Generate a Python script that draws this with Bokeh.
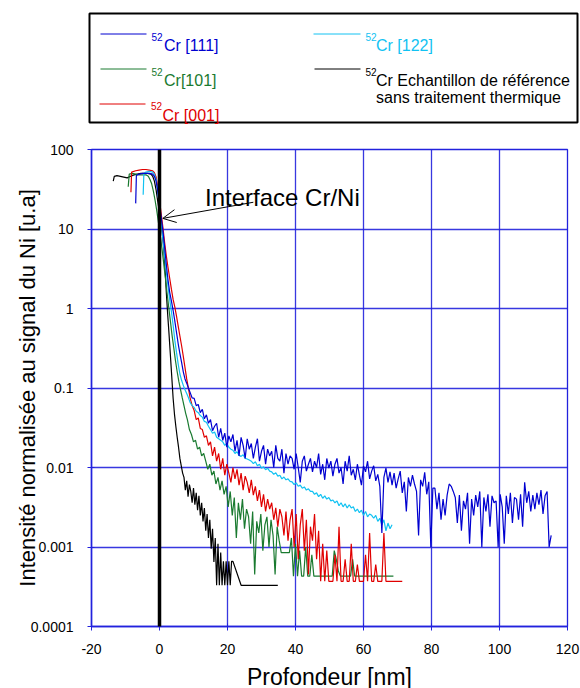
import numpy as np
from bokeh.plotting import figure
from bokeh.layouts import column
from bokeh.models import Range1d, FixedTicker, CustomJSTickFormatter, Arrow, OpenHead, Label
from bokeh.embed import file_html
from bokeh.resources import INLINE
from bokeh.core.properties import value

FONT = "Liberation Sans"
C_BLUE = "#0000d0"
C_CYAN = "#12c2f2"
C_GREEN = "#1a7a30"
C_RED = "#e00000"
C_BLACK = "#000000"
GRID = "#2222dd"

x_ticks = [-20, 0, 20, 40, 60, 80, 100, 120]
y_ticks = [0.0001, 0.001, 0.01, 0.1, 1, 10, 100]

# ---------------- data (depth in nm, intensity normalised to Ni) ----------------
# 52Cr [111]  (blue)
blue_head_x = [-7.0, -6.8, -6.0, -5.0, -4.0, -3.0, -2.0, -1.5, -1.0, -0.5, 0.0, 0.5, 1.0, 1.5,
               2.0, 2.5, 3.0, 3.5, 4.0, 4.5, 5.0, 5.5, 6.0, 6.5, 7.0, 7.5, 8.0, 8.5]
blue_head_y = [21, 47, 49, 50, 50, 50, 49, 46, 40, 30, 20, 14, 9.5, 6.0,
               3.6, 2.3, 1.6, 1.25, 0.95, 0.70, 0.50, 0.36, 0.27, 0.21, 0.16, 0.13, 0.115, 0.10]
blue_tail_start, blue_tail_step = 9.0, 0.6
blue_tail_y = [
    0.088, 0.075, 0.074, 0.060, 0.062, 0.049, 0.054, 0.041, 0.046, 0.036,
    0.040, 0.029, 0.033, 0.036, 0.024, 0.031, 0.022, 0.027, 0.018, 0.025,
    0.021, 0.026, 0.016, 0.022, 0.014, 0.024, 0.019, 0.013, 0.023, 0.017,
    0.020, 0.013, 0.018, 0.023, 0.012, 0.016, 0.019, 0.011, 0.017, 0.014,
    0.016, 0.010, 0.019, 0.013, 0.012, 0.017, 0.0085, 0.015, 0.011, 0.014,
    0.013, 0.0095, 0.015, 0.010, 0.0065, 0.012, 0.014, 0.0090, 0.011, 0.013,
    0.0088, 0.012, 0.010, 0.015, 0.0082, 0.011, 0.0070, 0.013, 0.0098, 0.012,
    0.0078, 0.011, 0.013, 0.0085, 0.0100, 0.0062, 0.012, 0.0090, 0.014, 0.0080,
    0.0095, 0.0070, 0.011, 0.0080, 0.0060, 0.0105, 0.0088, 0.012, 0.0072, 0.0090,
    0.0105, 0.0068, 0.0082, 0.0058, 0.0015, 0.0075, 0.0098, 0.0065, 0.0088, 0.0060,
    0.0085, 0.0055, 0.0072, 0.0090, 0.0048, 0.0066, 0.0028, 0.0075, 0.0058, 0.0080,
    0.0062, 0.0050, 0.0014, 0.0070, 0.0058, 0.0087, 0.0046, 0.0066, 0.0010, 0.0055,
    0.0055, 0.0030, 0.0048, 0.0022, 0.0040, 0.0025, 0.0045, 0.0062, 0.0058, 0.0050,
    0.0042, 0.0020, 0.0045, 0.0016, 0.0038, 0.0030, 0.0048, 0.0011, 0.0040, 0.0025,
    0.0045, 0.0032, 0.0050, 0.0010, 0.0042, 0.0028, 0.0046, 0.0018, 0.0044, 0.0036,
    0.0038, 0.0010, 0.0046, 0.0032, 0.0011, 0.0044, 0.0026, 0.0048, 0.0020, 0.0042,
    0.0040, 0.0022, 0.0046, 0.0018, 0.0065, 0.0036, 0.0050, 0.0028, 0.0045, 0.0030,
    0.0048, 0.0034, 0.0052, 0.0026, 0.0044, 0.0050, 0.0010, 0.0014]

# 52Cr [122]  (cyan)
cyan_head_x = [-4.8, -4.6, -4.0, -3.0, -2.0, -1.5, -1.0, -0.5, 0.0, 0.5, 1.0, 1.5, 2.0, 2.5,
               3.0, 3.5, 4.0, 4.5, 5.0, 5.5, 6.0, 6.5, 7.0, 7.5, 8.0, 8.5]
cyan_head_y = [27, 50, 52, 53, 52, 49, 42, 30, 19, 12, 7.5, 4.6, 2.9, 1.9,
               1.3, 0.92, 0.62, 0.40, 0.28, 0.20, 0.15, 0.125, 0.108, 0.095, 0.085, 0.076]
cyan_tail_start, cyan_tail_step = 9.0, 0.6
cyan_tail_y = [
    0.066, 0.060, 0.057, 0.051, 0.049, 0.045, 0.043, 0.038, 0.037, 0.033,
    0.030, 0.027, 0.028, 0.024, 0.023, 0.022, 0.021, 0.019, 0.020, 0.018,
    0.017, 0.0165, 0.0150, 0.0158, 0.0142, 0.0138, 0.0145, 0.0130, 0.0128, 0.0124,
    0.0120, 0.0112, 0.0118, 0.0105, 0.0110, 0.0098, 0.0102, 0.0094, 0.0098, 0.0090,
    0.0088, 0.0082, 0.0086, 0.0078, 0.0080, 0.0072, 0.0076, 0.0070, 0.0072, 0.0067,
    0.0066, 0.0061, 0.0064, 0.0058, 0.0060, 0.0055, 0.0057, 0.0052, 0.0054, 0.0050,
    0.0050, 0.0046, 0.0048, 0.0043, 0.0046, 0.0041, 0.0044, 0.0040, 0.0042, 0.0038,
    0.0039, 0.0036, 0.0038, 0.0033, 0.0036, 0.0032, 0.0035, 0.0031, 0.0034, 0.0031,
    0.0032, 0.0028, 0.0030, 0.0027, 0.0029, 0.0025, 0.0028, 0.0024, 0.0026, 0.0025,
    0.0023, 0.0025, 0.0021, 0.0023, 0.0019, 0.0022, 0.0016, 0.0020, 0.0017, 0.0019]

# 52Cr [101]  (green)
green_head_x = [-9.2, -8.9, -8.0, -7.0, -6.0, -5.0, -4.0, -3.3, -2.8, -2.3, -1.8, -1.3, -0.8, -0.3,
                0.2, 0.7, 1.2, 1.7, 2.2, 2.7, 3.2, 3.7, 4.2, 4.7, 5.2, 5.7, 6.2, 6.7, 7.2, 7.7]
green_head_y = [34, 49, 50, 49, 48, 48, 48, 46, 42, 37, 30, 23, 17, 12,
                8.5, 5.8, 3.8, 2.5, 1.6, 1.05, 0.70, 0.46, 0.32, 0.22, 0.16, 0.12, 0.095, 0.075, 0.060, 0.048]
green_tail_start, green_tail_step = 8.2, 0.6
green_tail_y = [
    0.040, 0.030, 0.026, 0.021, 0.022, 0.017, 0.018, 0.014, 0.015, 0.012,
    0.0095, 0.011, 0.0080, 0.0090, 0.0062, 0.0075, 0.0052, 0.0068, 0.0046, 0.0058,
    0.0032, 0.0050, 0.0025, 0.0042, 0.0013, 0.0036, 0.0022, 0.0040, 0.0017, 0.0030,
    0.0024, 0.0011, 0.0028, 0.00045, 0.0021, 0.0015, 0.0026, 0.0009, 0.0019, 0.0024,
    0.0010, 0.0022, 0.0014, 0.00045, 0.0018, 0.0012, 0.00085, 0.00085, 0.00085, 0.00085,
    0.00085, 0.0013, 0.00043, 0.0011, 0.00043, 0.0009, 0.00043, 0.00043, 0.0010, 0.00043,
    0.00043, 0.0008, 0.00043, 0.00043, 0.00043, 0.00043, 0.00043, 0.00043, 0.00043, 0.00043,
    0.00043, 0.00043, 0.0009, 0.0007, 0.0005, 0.00043, 0.00043, 0.00043, 0.00043, 0.00043,
    0.00043, 0.0007, 0.00043, 0.00043, 0.00043, 0.00043, 0.00043, 0.00043, 0.00043, 0.00043,
    0.00043, 0.00043, 0.00043, 0.00043, 0.00043, 0.00043, 0.00043, 0.00043, 0.00043, 0.00043,
    0.00043, 0.00043]

# 52Cr [001]  (red)
red_head_x = [-8.4, -8.2, -7.0, -6.0, -5.0, -4.0, -3.0, -2.0, -1.5, -1.0, -0.5, 0.0, 0.5, 1.0,
              1.5, 2.0, 2.5, 3.0, 3.5, 4.0, 4.5, 5.0, 5.5, 6.0, 6.5, 7.0, 7.5, 8.0, 8.5]
red_head_y = [29, 52, 54, 55, 56, 56, 55, 54, 51, 45, 34, 23, 15.5, 10.5,
              6.8, 4.6, 3.3, 2.4, 1.75, 1.3, 1.05, 0.80, 0.60, 0.45, 0.34, 0.25, 0.18, 0.13, 0.10]
red_tail_start, red_tail_step = 9.0, 0.6
red_tail_y = [
    0.075, 0.060, 0.052, 0.040, 0.042, 0.031, 0.030, 0.024, 0.025, 0.019,
    0.021, 0.014, 0.018, 0.012, 0.015, 0.0095, 0.013, 0.0080, 0.011, 0.0085,
    0.0065, 0.010, 0.0072, 0.0095, 0.0060, 0.0085, 0.0052, 0.0078, 0.0065, 0.0048,
    0.0070, 0.0045, 0.0058, 0.0038, 0.0052, 0.0032, 0.0046, 0.0028, 0.0040, 0.0030,
    0.0036, 0.0022, 0.0031, 0.0018, 0.0030, 0.0024, 0.0014, 0.0028, 0.0012, 0.0022,
    0.0030, 0.0010, 0.0026, 0.0007, 0.0019, 0.0030, 0.0009, 0.0022, 0.00045, 0.0018,
    0.0012, 0.0026, 0.0007, 0.0016, 0.00037, 0.0011, 0.00037, 0.0009, 0.00037, 0.00037,
    0.00037, 0.0008, 0.00037, 0.0018, 0.00037, 0.00037, 0.0007, 0.00037, 0.00037, 0.0011,
    0.00037, 0.00037, 0.0006, 0.00037, 0.00037, 0.00037, 0.0008, 0.00037, 0.0015, 0.00037,
    0.00037, 0.0006, 0.00037, 0.00037, 0.00037, 0.0015, 0.00037, 0.00037, 0.00037, 0.00037,
    0.00037, 0.00037, 0.00037, 0.00037, 0.00037]

# 52Cr reference sample without heat treatment (black)
black_head_x = [-13.6, -13.3, -12.5, -11.5, -10.5, -9.5, -8.5, -7.5, -6.5, -5.5, -4.5, -3.5, -2.5,
                -2.0, -1.5, -1.0, -0.5, 0.0, 0.4, 0.8, 1.2, 1.6, 2.0, 2.4, 2.8, 3.2, 3.6, 4.0,
                4.4, 4.8, 5.2, 5.6, 6.0, 6.4, 6.8]
black_head_y = [40, 46, 47, 46, 45, 44, 46, 48, 49, 50, 50, 50, 49,
                46, 40, 31, 22, 16, 12, 9.0, 6.0, 3.4, 1.6, 0.85, 0.48, 0.26, 0.14, 0.075,
                0.047, 0.033, 0.024, 0.018, 0.013, 0.0105, 0.0085]
black_tail_start, black_tail_step = 7.2, 0.4
black_tail_y = [
    0.0075, 0.0052, 0.0068, 0.0043, 0.0061, 0.0050, 0.0036, 0.0055, 0.0034, 0.0048,
    0.0029, 0.0044, 0.0025, 0.0036, 0.0021, 0.0031, 0.0016, 0.0026, 0.0013, 0.0022,
    0.00095, 0.0017, 0.00065, 0.0013, 0.00033, 0.0011, 0.00033, 0.00085, 0.00033, 0.00066,
    0.00033, 0.00066, 0.00033, 0.00066, 0.00033, 0.00066, 0.00066]
black_end_x = [24.0, 34.8]
black_end_y = [0.00033, 0.00033]


def series(head_x, head_y, start, step, tail_y, end_x=(), end_y=()):
    tail_x = start + step * np.arange(len(tail_y))
    xs = np.concatenate([head_x, tail_x, end_x])
    ys = np.concatenate([head_y, tail_y, end_y])
    return xs, ys


curves = [
    ("black", series(black_head_x, black_head_y, black_tail_start, black_tail_step, black_tail_y,
                     black_end_x, black_end_y), C_BLACK),
    ("green", series(green_head_x, green_head_y, green_tail_start, green_tail_step, green_tail_y), C_GREEN),
    ("red", series(red_head_x, red_head_y, red_tail_start, red_tail_step, red_tail_y), C_RED),
    ("cyan", series(cyan_head_x, cyan_head_y, cyan_tail_start, cyan_tail_step, cyan_tail_y), C_CYAN),
    ("blue", series(blue_head_x, blue_head_y, blue_tail_start, blue_tail_step, blue_tail_y), C_BLUE),
]

# ---------------- legend panel (drawn in page pixel coordinates) ----------------
leg = figure(width=580, height=130, x_range=Range1d(0, 580), y_range=Range1d(130, 0),
             output_backend="svg", toolbar_location=None, min_border=0,
             x_axis_location=None, y_axis_location=None)
leg.frame_align = False
leg.grid.visible = False
leg.outline_line_color = None
leg.background_fill_color = "white"
leg.border_fill_color = "white"
leg.quad(left=89, right=577, top=13, bottom=122, fill_color=None, line_color="black", line_width=2)

leg_names = ["Cr [111]", "Cr [122]", "Cr[101]", "Cr Echantillon de référence", "Cr [001]"]
leg_colors = [C_BLUE, C_CYAN, C_GREEN, C_BLACK, C_RED]
leg_x0 = [100, 313, 100, 314, 99]
leg_x1 = [146, 360, 146, 360, 145]
leg_ly = [33.5, 33.5, 68.5, 68.5, 103.5]
leg_sx = [151, 365, 151, 365, 150.5]
leg_sy = [36.5, 36.5, 71.5, 71.5, 105.5]
leg_tx = [163.5, 375.5, 163.5, 375.5, 162]
leg_ty = [45, 45, 80, 80, 114.5]

leg.segment(x0=leg_x0, y0=leg_ly, x1=leg_x1, y1=leg_ly, line_color=leg_colors, line_width=1)
leg.text(x=leg_sx, y=leg_sy, text=["52"] * 5, text_color=leg_colors, text_font=value(FONT),
         text_font_size="10px", text_baseline="alphabetic")
leg.text(x=leg_tx, y=leg_ty, text=leg_names, text_color=leg_colors, text_font=value(FONT),
         text_font_size="16px", text_baseline="alphabetic")
leg.text(x=[375.5], y=[97], text=["sans traitement thermique"], text_color=C_BLACK,
         text_font=value(FONT), text_font_size="16px", text_baseline="alphabetic")

# ---------------- main plot ----------------
p = figure(frame_width=476, frame_height=477, x_range=Range1d(-20, 120), y_range=Range1d(1e-4, 100),
           y_axis_type="log", output_backend="svg", toolbar_location=None,
           min_border_left=91, min_border_right=13, min_border_top=19, min_border_bottom=60)
p.frame_align = False
p.background_fill_color = "white"
p.border_fill_color = "white"
p.outline_line_color = GRID
p.outline_line_width = 1.3

for name, (xs, ys), col in curves:
    p.line(xs, ys, line_color=col, line_width=1.2)

p.xaxis.ticker = FixedTicker(ticks=x_ticks)
p.yaxis.ticker = FixedTicker(ticks=y_ticks)
p.xaxis.formatter = CustomJSTickFormatter(code="return tick.toString();")
p.yaxis.formatter = CustomJSTickFormatter(code="return tick.toString();")
p.xgrid.ticker = FixedTicker(ticks=x_ticks)
p.ygrid.ticker = FixedTicker(ticks=y_ticks)
for g in (p.xgrid, p.ygrid):
    g.grid_line_color = GRID
    g.grid_line_width = 1.3
    g.grid_line_alpha = 0.9

for ax in (p.xaxis, p.yaxis):
    ax.axis_line_color = GRID
    ax.axis_line_width = 1.5
    ax.major_tick_line_color = GRID
    ax.major_tick_in = 3
    ax.major_tick_out = 4
    ax.minor_tick_line_color = None
    ax.major_label_text_font = FONT
    ax.major_label_text_font_size = "14px"
    ax.major_label_text_color = "black"
    ax.axis_label_text_font = FONT
    ax.axis_label_text_font_style = "normal"
    ax.axis_label_text_color = "black"

p.xaxis.axis_label = "Profondeur [nm]"
p.xaxis.axis_label_text_font_size = "23px"
p.xaxis.major_label_standoff = 13
p.xaxis.axis_label_standoff = 7
p.yaxis.axis_label = "Intensité normalisée au signal du Ni [u.a]"
p.yaxis.axis_label_text_font_size = "22px"
p.yaxis.major_label_standoff = 14
p.yaxis.axis_label_standoff = -12

# interface marker and annotation
p.add_layout(Arrow(end=None, x_start=0, y_start=100, x_end=0, y_end=6.3e-5,
                   line_color="black", line_width=3.5))
p.add_layout(Arrow(end=OpenHead(size=13, line_width=1, line_color="black"),
                   x_start=27.6, y_start=21.7, x_end=0.97, y_end=13.6,
                   line_color="black", line_width=1))
p.add_layout(Label(x=13.4, y=24.7, text="Interface Cr/Ni", text_font=FONT,
                   text_font_size="24px", text_color="black", text_baseline="alphabetic"))

layout = column(leg, p, spacing=0)
open("out.html", "w").write(file_html(layout, INLINE))
